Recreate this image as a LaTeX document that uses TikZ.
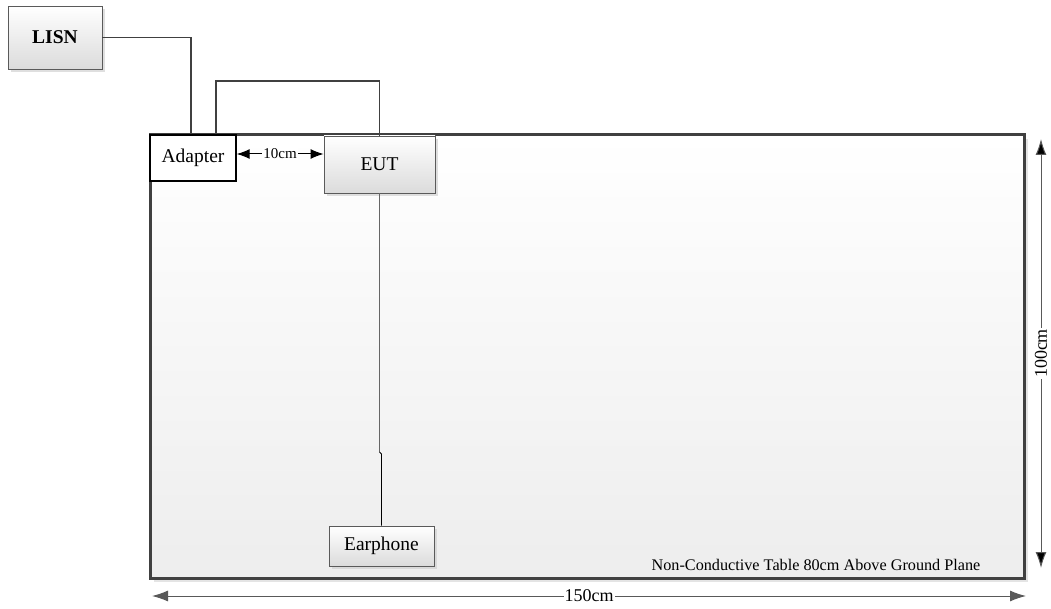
\documentclass[tikz,border=0pt]{standalone}
\usepackage{fontspec}
\setmainfont{Liberation Serif}
\usetikzlibrary{arrows.meta,shadows}
\definecolor{linegray}{HTML}{404040}
\definecolor{boxborder}{HTML}{5A5A5A}
\tikzset{
  graybox/.style={draw=boxborder, line width=0.9pt, shading=axis, top color=white, bottom color=black!14,
    drop shadow={shadow xshift=3pt, shadow yshift=-3pt, fill=black!18, opacity=0.7},
    inner sep=0pt, font=\fontsize{19.5}{22}\selectfont},
  whitebox/.style={draw=black, line width=1.4pt, fill=white, inner sep=0pt, font=\fontsize{19.5}{22}\selectfont},
  tablebox/.style={draw=linegray, line width=3pt, shading=axis, top color=white, bottom color=black!7,
    drop shadow={shadow xshift=4pt, shadow yshift=-4pt, fill=black!15, opacity=0.7}, inner sep=0pt},
  wire/.style={draw=linegray, line width=1.4pt},
  thinwire/.style={draw=black, line width=0.8pt},
  dimline/.style={draw=black!65, line width=1pt, {Latex[length=16pt,width=11pt]}-{Latex[length=16pt,width=11pt]}},
  dimlabel/.style={fill=white, inner sep=1pt, font=\fontsize{18}{20}\selectfont},
}
\begin{document}
\begin{tikzpicture}[x=1pt,y=-1pt]
\useasboundingbox (0,0) rectangle (1051,609);
% table
\node[tablebox, minimum width=874pt, minimum height=443pt] (table) at (587,356.5) {};
\node[font=\fontsize{16.2}{18}\selectfont, inner sep=0pt] (tablelabel) at (816,565) {Non-Conductive Table 80cm Above Ground Plane};
% boxes
\node[graybox, minimum width=94pt, minimum height=63pt, font=\fontsize{19.5}{22}\selectfont\bfseries] (lisn) at (55,37.5) {LISN};
\node[whitebox, minimum width=86pt, minimum height=46pt] (adapter) at (193,158) {Adapter};
\node[graybox, minimum width=111pt, minimum height=57pt] (eut) at (379.5,164.5) {EUT};
\node[graybox, minimum width=105pt, minimum height=40pt] (earphone) at (381.5,546) {Earphone};
% connectors
\draw[wire] (lisn.east) -| ([xshift=-2pt]adapter.north);
\coordinate (looptop) at (0,81);
\draw[wire] ([xshift=23pt]adapter.north) |- (looptop -| eut.north) -- (eut.north);
\coordinate (kinka) at (379.5,452);
\coordinate (kinkb) at (381.5,454);
\draw[draw=black!60, line width=1.4pt] (eut.south) -- (kinka);
\draw[thinwire] (kinka) -- (kinkb) -- (earphone.north);
% 10cm
\draw[draw=black, line width=1pt, {Latex[length=13pt,width=10pt]}-{Latex[length=13pt,width=10pt]}] (adapter.east |- 0,154) -- node[fill=white, inner sep=1pt, font=\fontsize{15}{17}\selectfont] (tencm) {10cm} (eut.west |- 0,154);
% dimensions
\coordinate (dimleft) at (152,596);
\coordinate (dimright) at (1026,596);
\draw[dimline] (dimleft) -- node[dimlabel] (w150) {150cm} (dimright);
\coordinate (dimtop) at (1041,139);
\coordinate (dimbot) at (1041,568);
\draw[draw=black!65, line width=1pt, {Latex[length=16pt,width=11pt,fill=black]}-{Latex[length=16pt,width=11pt,fill=black]}] (dimtop) -- node[dimlabel, rotate=90] (h100) {100cm} (dimbot);
\end{tikzpicture}
\end{document}
